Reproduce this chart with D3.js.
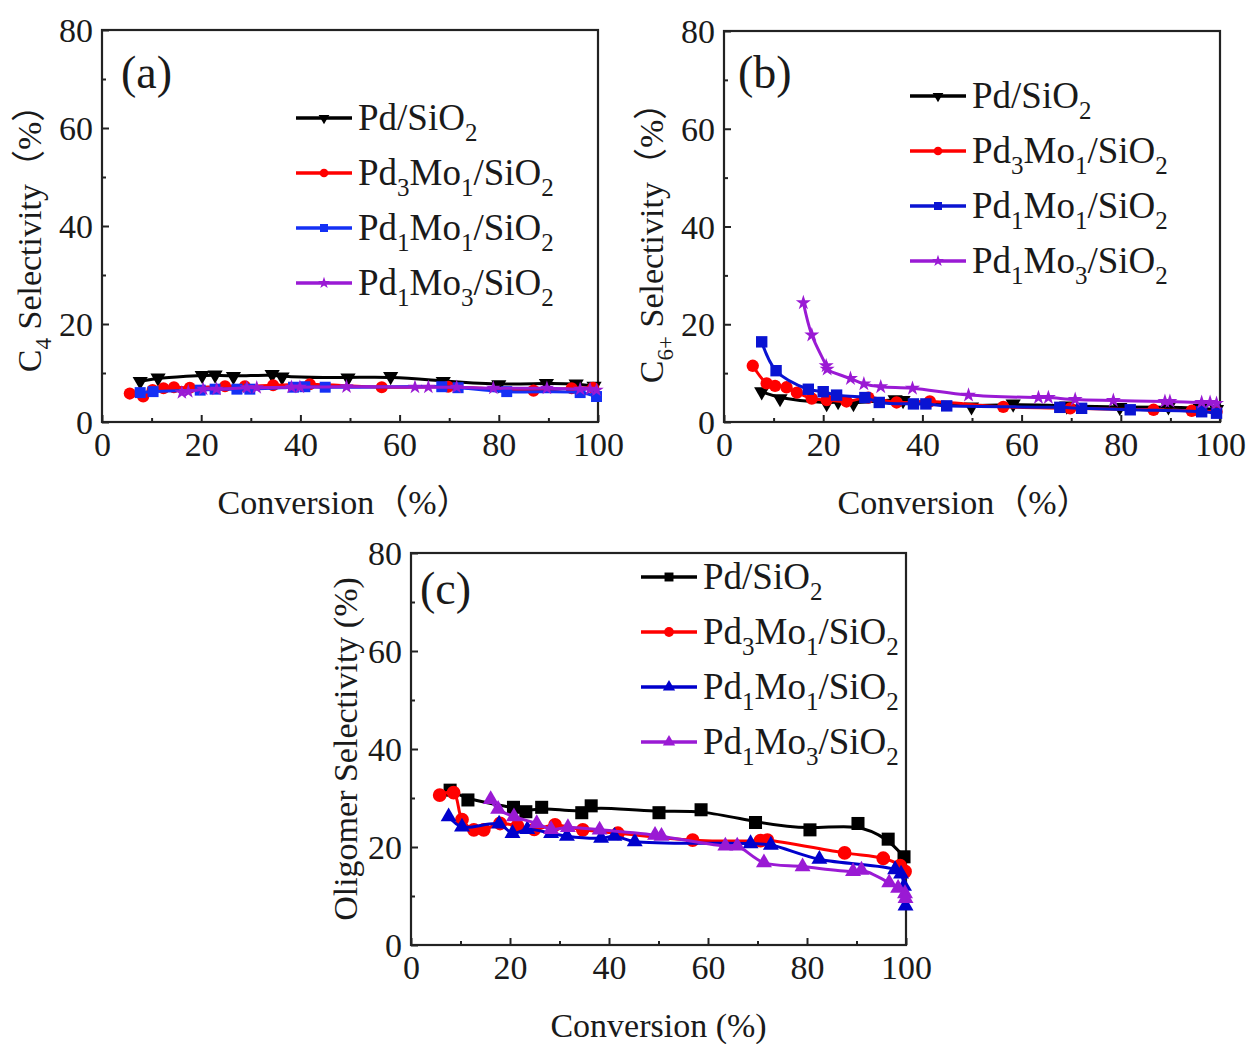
<!DOCTYPE html>
<html>
<head>
<meta charset="utf-8">
<script src="https://cdn.jsdelivr.net/npm/d3@7"></script>
<style>
  body { margin: 0; background: #fff; }
  svg { display: block; }
  text { font-family: "Liberation Serif", "Times New Roman", "Noto Sans CJK SC", serif; fill: #1a1a1a; }
</style>
</head>
<body>
<svg id="chart" width="1250" height="1044"></svg>
<script>
// ---- data : [conversion %, selectivity %] ----
const catalysts = ['Pd/SiO2', 'Pd3Mo1/SiO2', 'Pd1Mo1/SiO2', 'Pd1Mo3/SiO2'];
const conversionTicks = [0, 20, 40, 60, 80, 100];
const selectivityTicks = [0, 20, 40, 60, 80];

// (a) C4 selectivity
const c4Pd = [[7.7, 8.3], [11.3, 9.0], [20.2, 9.5], [22.8, 9.6], [26.5, 9.3], [34.3, 9.7], [36.3, 9.2],
  [49.6, 9.0], [58.2, 9.3], [68.8, 8.3], [80.0, 7.6], [89.6, 7.9], [95.6, 7.8], [99.2, 7.3]];
const c4Pd3Mo1 = [[5.6, 5.8], [8.3, 5.2], [10.2, 6.5], [12.4, 6.9], [14.5, 7.1], [17.7, 7.0], [24.8, 7.3],
  [28.8, 7.3], [34.5, 7.5], [41.9, 7.7], [56.4, 7.1], [69.8, 7.2], [87.0, 6.4], [94.7, 6.9], [99.0, 7.0]];
const c4Pd1Mo1 = [[7.7, 6.0], [10.3, 6.2], [19.8, 6.5], [22.8, 6.7], [27.2, 6.7], [29.8, 6.7], [38.6, 7.1],
  [40.9, 7.2], [45.0, 7.1], [68.5, 7.2], [71.8, 7.0], [81.6, 6.2], [96.4, 6.0], [99.7, 5.2]];
const c4Pd1Mo3 = [[16.1, 6.0], [17.4, 6.2], [20.4, 6.7], [23.1, 6.7], [29.2, 7.0], [31.2, 7.0], [38.2, 7.1],
  [39.9, 7.1], [49.3, 7.2], [63.1, 7.1], [65.8, 7.1], [71.5, 7.1], [78.9, 6.9], [89.7, 6.9], [96.4, 6.7],
  [98.4, 6.7], [99.7, 6.5]];

// (b) C6+ selectivity
const c6Pd = [[7.6, 6.2], [11.3, 4.8], [20.7, 3.8], [23.0, 4.2], [26.1, 3.8], [34.5, 4.6], [36.1, 4.4],
  [49.9, 3.1], [58.3, 3.7], [69.1, 3.3], [79.8, 3.0], [89.6, 3.1], [96.0, 2.8], [99.3, 2.6]];
const c6Pd3Mo1 = [[5.8, 11.5], [8.6, 7.9], [10.3, 7.4], [12.6, 7.1], [14.7, 6.0], [17.7, 4.8], [20.7, 4.5],
  [24.7, 4.2], [29.1, 5.0], [34.8, 4.0], [41.5, 4.2], [56.3, 3.1], [69.8, 2.8], [86.6, 2.5], [94.3, 2.3], [99.3, 2.1]];
const c6Pd1Mo1 = [[7.6, 16.4], [10.5, 10.5], [17.0, 6.7], [20.0, 6.2], [22.7, 5.5], [28.4, 5.0], [31.3, 4.0],
  [38.2, 3.7], [40.7, 3.7], [44.9, 3.3], [67.7, 3.0], [72.1, 2.8], [81.9, 2.5], [96.3, 2.1], [99.3, 1.8]];
const c6Pd1Mo3 = [[16.0, 24.4], [17.7, 17.8], [20.6, 11.5], [20.8, 10.8], [25.5, 8.9], [28.2, 7.8], [31.6, 7.2],
  [38.0, 6.9], [49.3, 5.5], [63.4, 5.0], [65.4, 5.0], [70.8, 4.6], [78.5, 4.4], [88.9, 4.2], [89.9, 4.2],
  [96.3, 4.0], [98.0, 4.0], [99.3, 3.8]];

// (c) oligomer selectivity
const oligPd = [[7.9, 31.6], [11.5, 29.6], [20.7, 28.1], [23.2, 27.2], [26.4, 28.1], [34.5, 27.0], [36.4, 28.4],
  [50.1, 27.0], [58.6, 27.6], [69.6, 25.0], [80.6, 23.5], [90.3, 24.8], [96.4, 21.6], [99.6, 18.0]];
const oligPd3Mo1 = [[5.8, 30.6], [8.6, 31.1], [10.3, 25.6], [12.7, 23.5], [14.7, 23.5], [18.0, 24.8],
  [21.5, 24.3], [24.9, 23.6], [29.1, 24.5], [34.7, 23.5], [41.8, 22.8], [56.9, 21.4], [70.6, 21.3],
  [72.0, 21.4], [87.6, 18.8], [95.4, 17.7], [98.8, 16.2], [99.8, 15.0]];
const oligPd1Mo1 = [[7.6, 26.2], [10.3, 24.1], [17.8, 24.7], [20.5, 22.8], [23.5, 23.6], [28.3, 22.8],
  [31.5, 22.2], [38.4, 21.8], [41.1, 22.2], [45.2, 21.1], [68.6, 20.7], [72.7, 20.4], [82.5, 17.5],
  [97.8, 15.4], [99.0, 14.5], [99.6, 12.0], [99.9, 8.0]];
const oligPd1Mo3 = [[16.1, 29.7], [17.6, 27.7], [20.8, 26.2], [25.4, 24.8], [28.3, 23.6], [31.7, 24.0],
  [38.1, 23.5], [49.3, 22.4], [50.6, 22.2], [63.5, 20.2], [65.9, 20.2], [71.3, 16.8], [79.1, 16.0],
  [89.3, 15.0], [91.0, 15.3], [96.6, 12.7], [98.4, 11.6], [99.8, 10.5], [99.9, 9.5]];

// ---- layout ----
const svg = d3.select('#chart');

const panels = [
  {
    tag: '(a)', x0: 102, x1: 598, y0: 422, y1: 30, tagX: 121, tagY: 88,
    ytitle: [['C', 0], ['4', 1], [' Selectivity（%）', 0]], ytitleX: 41, ytitleDy: 4,
    xtitle: 'Conversion（%）', xtitleDx: -6,
    series: [c4Pd, c4Pd3Mo1, c4Pd1Mo1, c4Pd1Mo3],
    shapes: ['down', 'circle', 'square', 'star'],
    colors: ['#000000', '#ff0000', '#1430f5', '#9a1ad4'],
    msize: [100, 115, 120, 65], lsize: [50, 60, 64, 45],
    legendX: 296, legendY: 118
  },
  {
    tag: '(b)', x0: 724, x1: 1220, y0: 422, y1: 31, tagX: 738, tagY: 88,
    ytitle: [['C', 0], ['6+', 1], [' Selectivity（%）', 0]], ytitleX: 663, ytitleDy: 8,
    xtitle: 'Conversion（%）', xtitleDx: -8,
    series: [c6Pd, c6Pd3Mo1, c6Pd1Mo1, c6Pd1Mo3],
    shapes: ['down', 'circle', 'square', 'star'],
    colors: ['#000000', '#ff0000', '#0a14d2', '#9a1ad4'],
    msize: [100, 120, 130, 70], lsize: [50, 60, 64, 45],
    legendX: 910, legendY: 96
  },
  {
    tag: '(c)', x0: 411, x1: 906, y0: 945, y1: 553, tagX: 420, tagY: 604,
    ytitle: [['Oligomer Selectivity (%)', 0]], ytitleX: 357, ytitleDy: 0,
    xtitle: 'Conversion (%)', xtitleDx: 0,
    series: [oligPd, oligPd3Mo1, oligPd1Mo1, oligPd1Mo3],
    shapes: ['square', 'circle', 'up', 'up'],
    colors: ['#000000', '#ff0000', '#0000cc', '#9a1ad4'],
    msize: [170, 150, 110, 110], lsize: [80, 75, 65, 65],
    legendX: 641, legendY: 577
  }
];

function symbolPath(shape, size) {
  const type = shape === 'circle' ? d3.symbolCircle
    : shape === 'square' ? d3.symbolSquare
    : shape === 'star' ? d3.symbolStar
    : d3.symbolTriangle;
  return d3.symbol().type(type).size(size)();
}

// write a label, parts flagged 1 become subscripts
function writeParts(textSel, parts, big, small) {
  let shift = 0;
  parts.forEach(([str, sub]) => {
    const target = sub ? 0.3 * big : 0;
    textSel.append('tspan')
      .attr('dy', target - shift)
      .style('font-size', (sub ? small : big) + 'px')
      .text(str);
    shift = target;
  });
}

function catalystParts(name) {
  return name.match(/\d+|[^\d]+/g).map(p => [p, /^\d+$/.test(p) ? 1 : 0]);
}

panels.forEach(p => {
  const x = d3.scaleLinear().domain([0, 100]).range([p.x0, p.x1]);
  const y = d3.scaleLinear().domain([0, 80]).range([p.y0, p.y1]);
  const g = svg.append('g');

  // axes (ticks point inward)
  const yAxis = g.append('g').attr('transform', `translate(${p.x0},0)`)
    .call(d3.axisLeft(y).tickValues(selectivityTicks).tickSize(-7).tickPadding(9));
  g.append('g').attr('transform', `translate(${p.x0},0)`)
    .call(d3.axisLeft(y).tickValues([10, 30, 50, 70]).tickSize(-4).tickFormat(''));
  g.append('g').attr('transform', `translate(0,${p.y0})`)
    .call(d3.axisBottom(x).tickValues(conversionTicks).tickSize(-7).tickPadding(10));
  g.append('g').attr('transform', `translate(0,${p.y0})`)
    .call(d3.axisBottom(x).tickValues([10, 30, 50, 70, 90]).tickSize(-4).tickFormat(''));
  g.selectAll('.domain').remove();
  g.selectAll('.tick line').attr('stroke', '#222').attr('stroke-width', 2);
  g.selectAll('.tick text').style('font-size', '34px').attr('fill', '#1a1a1a');
  yAxis.selectAll('.tick text').attr('dy', '0.34em');

  g.append('rect')
    .attr('x', p.x0).attr('y', p.y1)
    .attr('width', p.x1 - p.x0).attr('height', p.y0 - p.y1)
    .attr('fill', 'none').attr('stroke', '#222').attr('stroke-width', 2.2);

  // series: the Pd/SiO2 curve is a smoothed spline, others pass through points
  p.series.forEach((data, i) => {
    const curve = i === 0 ? d3.curveBasis : d3.curveCatmullRom.alpha(0.5);
    const line = d3.line().x(d => x(d[0])).y(d => y(d[1])).curve(curve);
    const sg = g.append('g');
    sg.append('path').datum(data)
      .attr('d', line)
      .attr('fill', 'none').attr('stroke', p.colors[i]).attr('stroke-width', 3);
    sg.selectAll('path.mk').data(data).join('path')
      .attr('class', 'mk')
      .attr('d', symbolPath(p.shapes[i], p.msize[i]))
      .attr('transform', d => `translate(${x(d[0])},${y(d[1])})` + (p.shapes[i] === 'down' ? ' rotate(180)' : ''))
      .attr('fill', p.colors[i]);
  });

  // legend
  catalysts.forEach((name, i) => {
    const ly = p.legendY + i * 55;
    const lg = g.append('g');
    lg.append('line')
      .attr('x1', p.legendX).attr('x2', p.legendX + 56)
      .attr('y1', ly).attr('y2', ly)
      .attr('stroke', p.colors[i]).attr('stroke-width', 3.5);
    lg.append('path')
      .attr('d', symbolPath(p.shapes[i], p.lsize[i]))
      .attr('transform', `translate(${p.legendX + 28},${ly})` + (p.shapes[i] === 'down' ? ' rotate(180)' : ''))
      .attr('fill', p.colors[i]);
    const t = lg.append('text').attr('x', p.legendX + 62).attr('y', ly + 12);
    writeParts(t, catalystParts(name), 37, 25);
  });

  // panel tag
  g.append('text').attr('x', p.tagX).attr('y', p.tagY)
    .style('font-size', '46px').text(p.tag);

  // axis titles
  g.append('text')
    .attr('x', (p.x0 + p.x1) / 2 + p.xtitleDx).attr('y', p.y0 + 92)
    .attr('text-anchor', 'middle').style('font-size', '34px')
    .text(p.xtitle);
  const yt = g.append('text')
    .attr('transform', `translate(${p.ytitleX},${(p.y0 + p.y1) / 2 + p.ytitleDy}) rotate(-90)`)
    .attr('text-anchor', 'middle');
  writeParts(yt, p.ytitle, 34, 23);
});
</script>
</body>
</html>
